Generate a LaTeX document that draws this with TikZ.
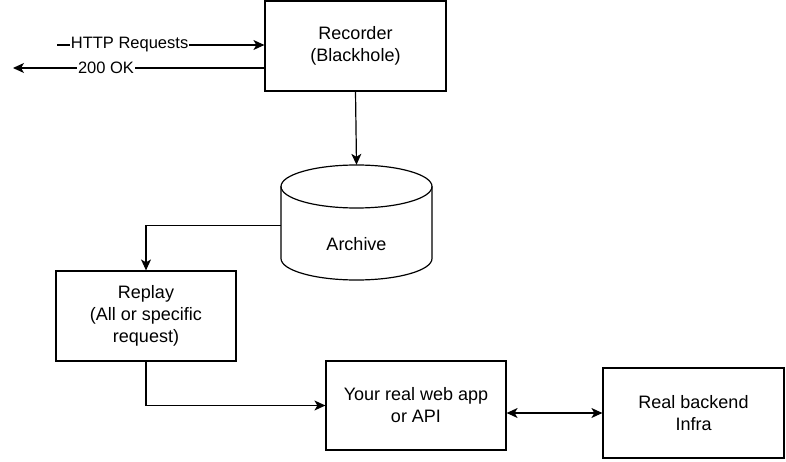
\documentclass[tikz,border=0pt]{standalone}
\usepackage{fontspec}
\setmainfont{Liberation Sans}
\usetikzlibrary{arrows.meta}

\tikzset{
  box/.style={draw, line width=1.2pt, minimum width=181pt, minimum height=90pt, align=center,
    font=\fontsize{18}{22}\selectfont},
  flow/.style={line width=1.2pt, -{Stealth[length=11pt,width=10pt,inset=3pt]}},
  lbl/.style={fill=white, inner sep=1pt, font=\fontsize{16.5}{21}\selectfont}
}

\begin{document}
\begin{tikzpicture}[x=1pt,y=1pt]
        \useasboundingbox (0,0) rectangle (786,461);

        \node[box] (recorder) at (355.5,415) {Recorder\\(Blackhole)};
        \node[minimum width=151pt, minimum height=115pt,
              label={[font=\fontsize{18}{22}\selectfont, yshift=-22pt]center:Archive}] (archive) at (356.5,238.5) {};
        \node[box, minimum width=180pt] (replay) at (146,145) {Replay\\(All or specific\\request)};
        \node[box, minimum width=180pt, minimum height=89pt] (webapp) at (416,55.5) {Your real web app\\or API};
        \node[box] (backend) at (693.5,48) {Real backend\\Infra};

        % the archive drum
        \draw[line width=1.2pt] ([yshift=36pt]archive.center) ellipse [x radius=75.5, y radius=21.5];
        \draw[line width=1.2pt] ([shift={(-75.5,36)}]archive.center) -- ([shift={(-75.5,-36)}]archive.center)
            arc[start angle=180, end angle=360, x radius=75.5, y radius=21.5]
            -- ([shift={(75.5,36)}]archive.center);

        \coordinate (client) at (57,416);
        \coordinate (reply) at (13,393);

        % requests in, answers out
        \draw[flow] (client) -- (client -| recorder.west)
            node[lbl, pos=0.35] {HTTP Requests};
        \draw[flow] (reply -| recorder.west) -- (reply)
            node[lbl, pos=0.63] {200 OK};

        \draw[flow] (recorder.south) -- (archive.north);
        \draw[flow] ([yshift=-3pt]archive.west) -| (replay.north);
        \draw[flow] (replay.south) |- (webapp.west);
        \draw[flow, {Stealth[length=11pt,width=10pt,inset=3pt]}-{Stealth[length=11pt,width=10pt,inset=3pt]}]
            (webapp.east |- backend.west) -- (backend.west);
    \end{tikzpicture}
\end{document}
